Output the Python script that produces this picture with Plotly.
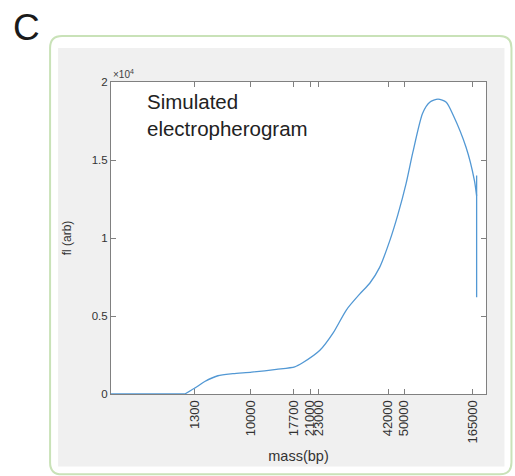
import plotly.graph_objects as go

# ---- data ----
# migration position (arb. units, 0-100 across the axis) and fluorescence (x10^4)
position = [0, 19.7, 22.8, 25.0, 28.5, 32.5, 37.5, 44.1, 49.0, 51.1, 55.7, 59.2,
            62.8, 66.3, 69.0, 71.6, 74.3, 76.5, 78.7, 80.5, 83.1, 85.0, 87.2, 89.4,
            91.2, 94.7, 96.9, 97.5, 97.5, 97.5]
fluor = [0, 0, 0.045, 0.08, 0.117, 0.13, 0.14, 0.158, 0.174, 0.20, 0.28, 0.39,
         0.54, 0.64, 0.71, 0.81, 0.98, 1.15, 1.35, 1.55, 1.80, 1.87, 1.89, 1.87,
         1.79, 1.58, 1.37, 1.27, 1.40, 0.62]

ladder_pos = [22.3, 37.2, 48.7, 53.1, 55.3, 73.9, 78.2, 96.4]
ladder_labels = ["1300", "10000", "17700", "21000", "23000", "42000", "50000", "165000"]

y_ticks = [0, 0.5, 1, 1.5, 2]
y_ticklabels = ["0", "0.5", "1", "1.5", "2"]

# ---- layout geometry (pixels) ----
W, H = 515, 476
L, R, T, B = 111, 486.5, 82, 394.5


def px(x):
    return (x - L) / (R - L)


def py(y):
    return (B - y) / (B - T)


FONT = "Liberation Sans, Arial, sans-serif"
AXC = "#808080"
LINEC = "#5298d4"

n_flat = 2                   # baseline before the signal rises
n_main = len(position) - 2   # smooth part up to the end spike

fig = go.Figure()
fig.add_trace(go.Scatter(x=position[:n_flat], y=fluor[:n_flat], mode="lines",
                         line=dict(color=LINEC, width=1.3),
                         hoverinfo="skip", showlegend=False))
fig.add_trace(go.Scatter(x=position[n_flat - 1:n_main], y=fluor[n_flat - 1:n_main], mode="lines",
                         line=dict(color=LINEC, width=1.3, shape="spline", smoothing=0.7),
                         hoverinfo="skip", showlegend=False))
fig.add_trace(go.Scatter(x=position[n_main - 1:], y=fluor[n_main - 1:], mode="lines",
                         line=dict(color=LINEC, width=1.3),
                         hoverinfo="skip", showlegend=False))

shapes = [
    # green rounded frame
    dict(type="path", xref="paper", yref="paper", layer="below",
         path=(f"M {px(62)},{py(36)} L {px(500)},{py(36)} Q {px(512)},{py(36)} {px(512)},{py(48)} "
               f"L {px(512)},{py(463)} Q {px(512)},{py(475)} {px(500)},{py(475)} "
               f"L {px(62)},{py(475)} Q {px(50)},{py(475)} {px(50)},{py(463)} "
               f"L {px(50)},{py(48)} Q {px(50)},{py(36)} {px(62)},{py(36)} Z"),
         line=dict(color="#c9e2b8", width=2), fillcolor="rgba(0,0,0,0)"),
    # grey figure background
    dict(type="rect", xref="paper", yref="paper", layer="below",
         x0=px(58), x1=px(505), y0=py(48), y1=py(467),
         line=dict(width=0), fillcolor="#f0f0f0"),
    # white axes background
    dict(type="rect", xref="paper", yref="paper", layer="below",
         x0=0, x1=1, y0=0, y1=1, line=dict(width=0), fillcolor="white"),
]

annotations = [
    dict(text="C", xref="paper", yref="paper", x=px(11), y=py(27),
         xanchor="left", yanchor="middle", showarrow=False,
         font=dict(family=FONT, size=37, color="#1a1a1a")),
    dict(text="×10<sup>4</sup>", xref="paper", yref="paper", x=px(111), y=py(74),
         xanchor="left", yanchor="middle", showarrow=False,
         font=dict(family=FONT, size=10, color="#404040")),
    dict(text="Simulated<br>electropherogram", xref="paper", yref="paper",
         x=px(145), y=py(88), xanchor="left", yanchor="top", align="left",
         showarrow=False, font=dict(family=FONT, size=20.5, color="#222222")),
]

fig.update_layout(
    width=W, height=H,
    margin=dict(l=L, r=W - R, t=T, b=H - B, pad=0),
    paper_bgcolor="white", plot_bgcolor="white",
    shapes=shapes, annotations=annotations,
    showlegend=False,
    xaxis=dict(range=[0, 100], tickvals=ladder_pos, ticktext=ladder_labels,
               tickangle=-90, ticks="inside", ticklen=5, tickcolor=AXC,
               showline=True, linecolor=AXC, linewidth=1, mirror="ticks",
               showgrid=False, zeroline=False,
               tickfont=dict(family=FONT, size=13, color="#333333"),
               title=dict(text="mass(bp)", standoff=8,
                          font=dict(family=FONT, size=14.5, color="#333333"))),
    yaxis=dict(range=[0, 2], tickvals=y_ticks, ticktext=y_ticklabels,
               ticks="inside", ticklen=5, tickcolor=AXC,
               showline=True, linecolor=AXC, linewidth=1, mirror="ticks",
               showgrid=False, zeroline=False,
               tickfont=dict(family=FONT, size=11.5, color="#333333"),
               title=dict(text="fl (arb)", standoff=17,
                          font=dict(family=FONT, size=12, color="#333333"))),
)

fig.write_html("out.html", config={"displayModeBar": False},
               post_script="document.body.style.margin='0px';")
